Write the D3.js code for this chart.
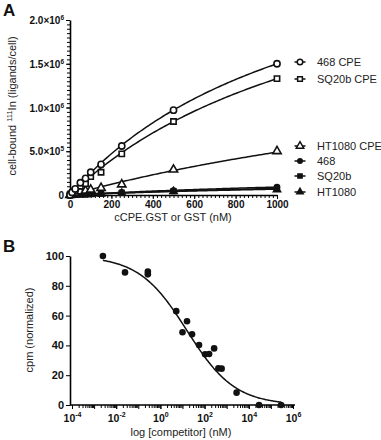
<!DOCTYPE html>
<html><head><meta charset="utf-8">
<script src="https://cdn.jsdelivr.net/npm/d3@7/dist/d3.min.js"></script>
<style>
body{margin:0;background:#fff;}
svg{display:block;font-family:"Liberation Sans",Arial,sans-serif;}
</style></head>
<body><svg id="c" width="381" height="440"></svg>
<script>
// ---------- Panel A data ----------
const concA = [0, 10, 25, 50, 75, 100, 150, 250, 500, 1000];
const seriesNamesA = ["468 CPE", "SQ20b CPE", "HT1080 CPE", "468", "SQ20b", "HT1080"];
const val468CPE   = [0, 30000, 70000, 140000, 190000, 260000, 350000, 560000, 970000, 1500000];
const valSQ20bCPE = [0, 20000, 50000, 100000, 130000, 210000, 260000, 470000, 840000, 1330000];
const valHT1080CPE= [0, 10000, 20000, 40000, 50000, 60000, 80000, 120000, 290000, 500000];
const val468      = [0, 2000, 4000, 8000, 10000, 15000, 20000, 30000, 50000, 90000];
const valSQ20b    = [0, 2000, 4000, 6000, 8000, 10000, 15000, 25000, 45000, 70000];
const valHT1080   = [0, 1000, 3000, 5000, 7000, 10000, 12000, 20000, 40000, 60000];
// one-site fit parameters
const fitBmaxA = [3300000, 3190000, 1960000, 300000, 250000, 200000];
const fitKdA   = [1200, 1400, 3000, 2300, 2300, 2000];
const xTicksA = [0, 200, 400, 600, 800, 1000];
const yTicksA = [0, 500000, 1000000, 1500000, 2000000];
const yTickLabelsA = [["0",""], ["5.0×10","5"], ["1.0×10","6"], ["1.5×10","6"], ["2.0×10","6"]];

// ---------- Panel B data ----------
const compB = [0.0025, 0.025, 0.27, 0.27, 5.2, 10, 16, 27, 56, 105, 160, 270, 420, 590, 2800, 29000, 290000];
const cpmB  = [100, 89, 89.5, 87.7, 63, 48.8, 56.2, 47.4, 40.3, 34, 34.2, 38, 24.6, 24.4, 8.3, 0, 0];
const fitB = {top: 100, bottom: 0, logIC50: 1.2, hill: 0.4, from: 0.0025, to: 290000};
const xTicksB = [1e-4, 1e-2, 1, 1e2, 1e4, 1e6];
const xTickExpB = ["-4", "-2", "0", "2", "4", "6"];
const yTicksB = [0, 20, 40, 60, 80, 100];

const svg = d3.select("#c");
const ink = "#111";
const FF = "Liberation Sans, Arial, sans-serif";

// ---------- Panel A ----------
const xA = d3.scaleLinear().domain([0, 1000]).range([70, 277]);
const yA = d3.scaleLinear().domain([0, 2000000]).range([195, 20]);

const gA = svg.append("g");
gA.append("g").attr("transform", "translate(0,195)")
  .call(d3.axisBottom(xA).tickValues(d3.range(0, 1001, 20)).tickSize(3).tickFormat("").tickSizeOuter(0))
  .call(g => g.select(".domain").remove());
gA.append("g").attr("transform", "translate(70,0)")
  .call(d3.axisLeft(yA).tickValues(d3.range(0, 2000001, 50000)).tickSize(3).tickFormat("").tickSizeOuter(0))
  .call(g => g.select(".domain").remove());
const axA_x = gA.append("g").attr("transform", "translate(0,195)")
  .call(d3.axisBottom(xA).tickValues(xTicksA).tickSize(4).tickSizeOuter(0).tickPadding(2).tickFormat(d3.format("d")));
axA_x.selectAll("text").attr("font-size", 10).attr("font-weight", "bold").attr("fill", ink)
  .attr("font-family", FF);
const axA_y = gA.append("g").attr("transform", "translate(70,0)")
  .call(d3.axisLeft(yA).tickValues(yTicksA).tickSize(4).tickSizeOuter(0).tickFormat(""));
axA_y.selectAll(".tick").each(function(d, i) {
  const t = d3.select(this).append("text").attr("x", -6).attr("dy", "0.36em")
    .attr("text-anchor", "end").attr("fill", ink).attr("font-size", 10).attr("font-weight", "bold")
    .attr("font-family", FF);
  const lab = yTickLabelsA[i];
  t.append("tspan").text(lab[0]);
  if (lab[1]) t.append("tspan").attr("dy", -4).attr("font-size", 6.5).text(lab[1]);
});

const seriesA = [val468CPE, valSQ20bCPE, valHT1080CPE, val468, valSQ20b, valHT1080];
const symA = [
  {type: d3.symbolCircle, size: 30, fill: "#fff"},
  {type: d3.symbolSquare, size: 28, fill: "#fff"},
  {type: d3.symbolTriangle, size: 30, fill: "#fff"},
  {type: d3.symbolCircle, size: 20, fill: ink},
  {type: d3.symbolSquare, size: 22, fill: ink},
  {type: d3.symbolTriangle, size: 22, fill: ink}
];
const lineA = d3.line().x(d => xA(d[0])).y(d => yA(d[1]));
seriesA.forEach((vals, k) => {
  const pts = d3.range(0, 1001, 10).map(c => [c, fitBmaxA[k] * c / (fitKdA[k] + c)]);
  gA.append("path").attr("d", lineA(pts)).attr("fill", "none").attr("stroke", ink).attr("stroke-width", 1.5);
});
[5, 4, 3, 2, 1, 0].forEach(k => {
  const vals = seriesA[k];
  gA.append("g").selectAll("path").data(concA.map((c, i) => [c, vals[i]])).join("path")
    .attr("transform", d => `translate(${xA(d[0])},${yA(d[1])})`)
    .attr("d", d3.symbol().type(symA[k].type).size(symA[k].size))
    .attr("fill", symA[k].fill).attr("stroke", ink).attr("stroke-width", 1.6);
});
// legend
const legY = [62, 79, 146, 161, 176, 192];
seriesNamesA.forEach((name, k) => {
  const g = svg.append("g").attr("transform", `translate(300,${legY[k]})`);
  g.append("line").attr("x1", -5.5).attr("x2", 5.5).attr("stroke", ink).attr("stroke-width", 1.5);
  g.append("path").attr("d", d3.symbol().type(symA[k].type).size(symA[k].size * 0.8))
    .attr("fill", symA[k].fill).attr("stroke", ink).attr("stroke-width", 1.5);
  g.append("text").attr("x", 17).attr("dy", "0.36em").attr("font-size", 11).attr("fill", "#222").text(name);
});
svg.append("text").attr("x", 173).attr("y", 221).attr("text-anchor", "middle")
  .attr("font-size", 11).attr("fill", "#222").text("cCPE.GST or GST (nM)");
const ytA = svg.append("text").attr("transform", "translate(16,106) rotate(-90)")
  .attr("text-anchor", "middle").attr("font-size", 11).attr("fill", "#222");
ytA.append("tspan").text("cell-bound ");
ytA.append("tspan").attr("dy", -4).attr("font-size", 7.5).text("111");
ytA.append("tspan").attr("dy", 4).text("In (ligands/cell)");
svg.append("text").attr("x", 3).attr("y", 16).attr("font-size", 17).attr("font-weight", "bold").attr("fill", ink).text("A");

// ---------- Panel B ----------
const xB = d3.scaleLog().domain([1e-4, 1e6]).range([72, 293]);
const yB = d3.scaleLinear().domain([0, 100]).range([405, 256]);
const gB = svg.append("g");
const minorB = [];
for (let e = -4; e < 6; e++) for (let m = 2; m <= 9; m++) minorB.push(m * Math.pow(10, e));
const decB = d3.range(-4, 7).map(e => Math.pow(10, e));
gB.append("g").attr("transform", "translate(0,405)")
  .call(d3.axisBottom(xB).tickValues(minorB).tickSize(3).tickFormat("").tickSizeOuter(0))
  .call(g => g.select(".domain").remove());
gB.append("g").attr("transform", "translate(0,405)")
  .call(d3.axisBottom(xB).tickValues(decB).tickSize(4).tickFormat("").tickSizeOuter(0))
  .call(g => g.select(".domain").remove());
const axB_x = gB.append("g").attr("transform", "translate(0,405)")
  .call(d3.axisBottom(xB).tickValues(xTicksB).tickSize(4).tickSizeOuter(0).tickFormat(""));
axB_x.select(".domain").attr("d", `M70,0H295`);
axB_x.selectAll(".tick").each(function(d, i) {
  const t = d3.select(this).append("text").attr("y", 17).attr("text-anchor", "middle")
    .attr("fill", ink).attr("font-size", 10.5).attr("font-weight", "bold")
    .attr("font-family", FF);
  t.append("tspan").text("10");
  t.append("tspan").attr("dy", -5).attr("font-size", 7).text(xTickExpB[i]);
});
const axB_y = gB.append("g").attr("transform", "translate(70,0)")
  .call(d3.axisLeft(yB).tickValues(yTicksB).tickSize(4).tickSizeOuter(0).tickPadding(2));
axB_y.selectAll("text").attr("font-size", 11).attr("font-weight", "bold").attr("fill", ink)
  .attr("font-family", FF);
svg.selectAll(".domain").attr("stroke-width", 1.6);
svg.selectAll(".tick line").attr("stroke-width", 1);

const lfrom = Math.log10(fitB.from), lto = Math.log10(fitB.to);
const curvePts = d3.range(0, 201).map(i => {
  const lx = lfrom + (lto - lfrom) * i / 200;
  const y = fitB.bottom + (fitB.top - fitB.bottom) / (1 + Math.pow(10, (lx - fitB.logIC50) * fitB.hill));
  return [Math.pow(10, lx), y];
});
gB.append("path").attr("d", d3.line().x(d => xB(d[0])).y(d => yB(d[1]))(curvePts))
  .attr("fill", "none").attr("stroke", ink).attr("stroke-width", 1.5);
gB.append("g").selectAll("circle").data(compB.map((c, i) => [c, cpmB[i]])).join("circle")
  .attr("cx", d => xB(d[0])).attr("cy", d => yB(d[1])).attr("r", 3.3).attr("fill", ink);

svg.append("text").attr("x", 181).attr("y", 436).attr("text-anchor", "middle")
  .attr("font-size", 11).attr("fill", "#222").text("log [competitor] (nM)");
svg.append("text").attr("transform", "translate(33,330) rotate(-90)").attr("text-anchor", "middle")
  .attr("font-size", 11).attr("fill", "#222").text("cpm (normalized)");
svg.append("text").attr("x", 3).attr("y", 252).attr("font-size", 17).attr("font-weight", "bold").attr("fill", ink).text("B");
</script></body></html>
